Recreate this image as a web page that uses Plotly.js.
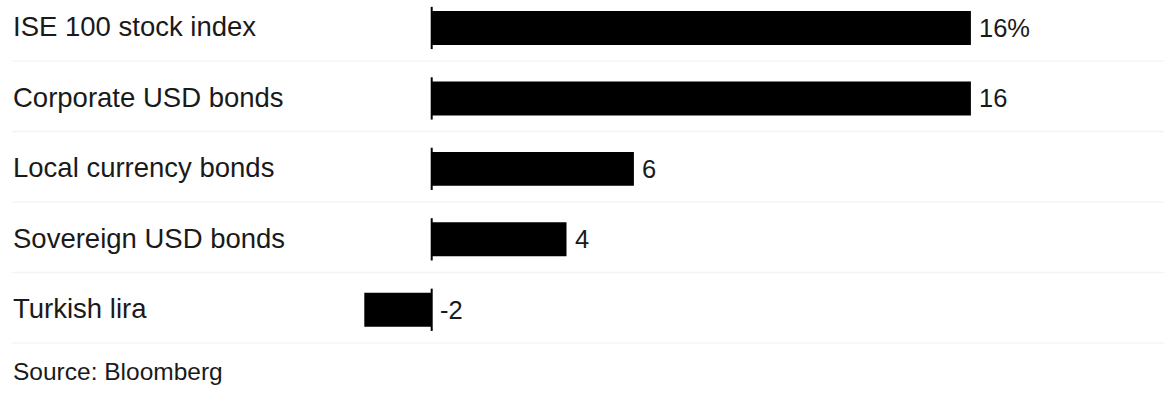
<!DOCTYPE html>
<html>
<head>
<meta charset="utf-8">
<script src="https://cdn.plot.ly/plotly-3.0.1.min.js"></script>
<style>
  html, body { margin: 0; padding: 0; background: #fff; }
  #chart { width: 1164px; height: 406px; }
</style>
</head>
<body>
<div id="chart"></div>
<script>
const categories = [
  "ISE 100 stock index",
  "Corporate USD bonds",
  "Local currency bonds",
  "Sovereign USD bonds",
  "Turkish lira",
]
const returns = [16, 16, 6, 4, -2]
const valueLabels = ["16%", "16", "6", "4", "-2"]
const source = "Source: Bloomberg"

const font = "Liberation Sans, Arial, Helvetica, sans-serif"

const idx = categories.map((_, i) => i)

const data = [
  {
    type: "bar",
    orientation: "h",
    x: returns,
    y: idx,
    width: 0.482,
    marker: { color: "#000" },
    hoverinfo: "skip",
  },
]

// light separators under each row, and the short zero tick through each bar
const shapes = []
idx.forEach((i) => {
  shapes.push({
    type: "line",
    xref: "paper",
    yref: "y",
    x0: 12 / 1164,
    x1: 1,
    y0: i + 0.47,
    y1: i + 0.47,
    line: { color: "#f4f4f4", width: 1.5 },
  })
  shapes.push({
    type: "line",
    xref: "x",
    yref: "y",
    x0: 0,
    x1: 0,
    y0: i - 0.3,
    y1: i + 0.3,
    line: { color: "#000", width: 2 },
  })
})

const annotations = []
categories.forEach((c, i) => {
  annotations.push({
    xref: "paper",
    yref: "y",
    x: 0,
    xshift: 11,
    y: i,
    yshift: 1,
    text: c,
    showarrow: false,
    xanchor: "left",
    yanchor: "middle",
    font: { family: font, size: 27.5, color: "#1a1a1a" },
  })
  annotations.push({
    xref: "x",
    yref: "y",
    x: Math.max(returns[i], 0),
    xshift: 6,
    y: i,
    yshift: 0,
    text: valueLabels[i],
    showarrow: false,
    xanchor: "left",
    yanchor: "middle",
    font: { family: font, size: 25.5, color: "#1a1a1a" },
  })
})
annotations.push({
  xref: "paper",
  yref: "paper",
  x: 0,
  xshift: 11,
  y: 0,
  yshift: -26,
  text: source,
  showarrow: false,
  xanchor: "left",
  yanchor: "middle",
  font: { family: font, size: 24.5, color: "#1a1a1a" },
})

const layout = {
  width: 1164,
  height: 406,
  margin: { l: 0, r: 0, t: 0, b: 60.75 },
  paper_bgcolor: "#fff",
  plot_bgcolor: "#fff",
  showlegend: false,
  xaxis: {
    range: [-12.81, 21.73],
    showgrid: false,
    zeroline: false,
    showticklabels: false,
    fixedrange: true,
  },
  yaxis: {
    range: [4.5, -0.397],
    showgrid: false,
    zeroline: false,
    showticklabels: false,
    fixedrange: true,
  },
  shapes: shapes,
  annotations: annotations,
}

Plotly.newPlot("chart", data, layout, { displayModeBar: false, staticPlot: true })
</script>
</body>
</html>
